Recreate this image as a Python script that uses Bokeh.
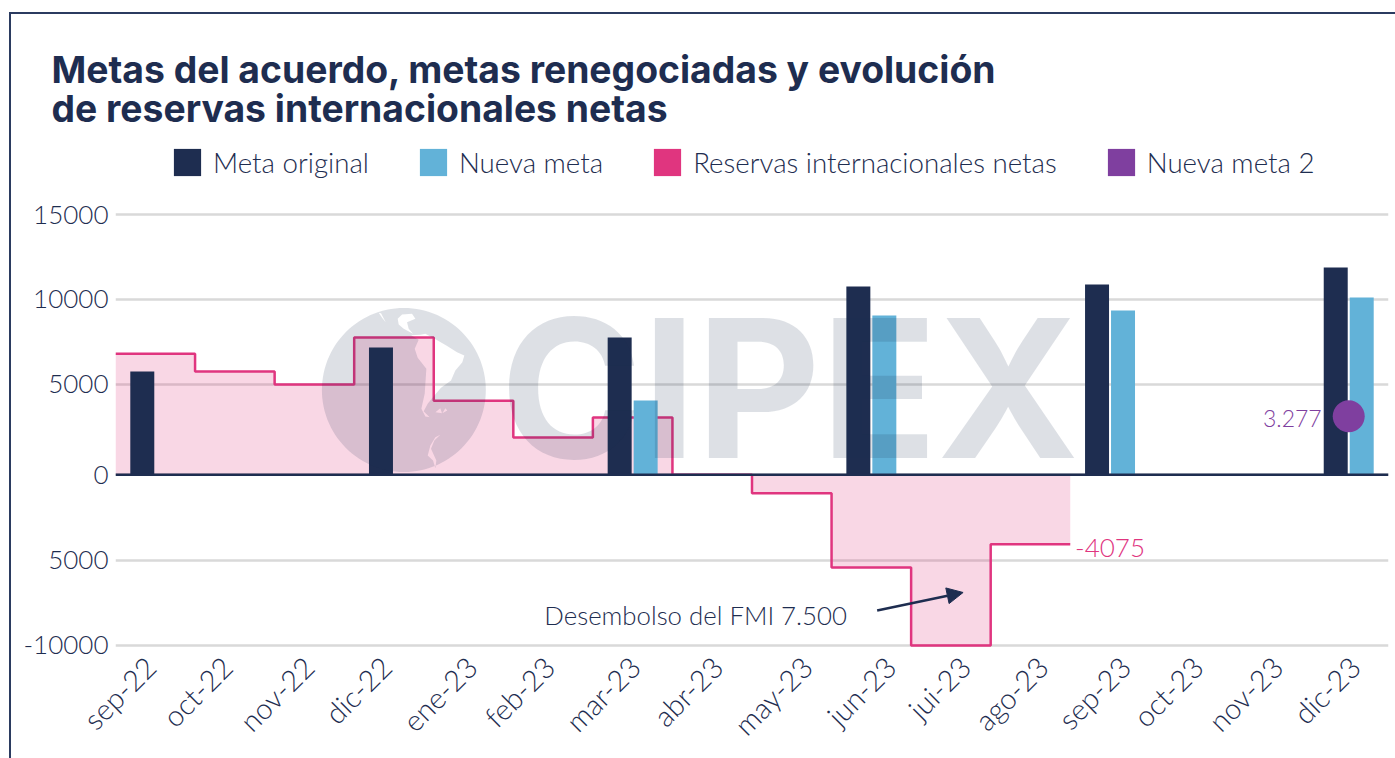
import math
from bokeh.plotting import figure
from bokeh.models import (Range1d, FixedTicker, ColumnDataSource, Label, Legend, LegendItem,
                          Arrow, NormalHead, Span, Title)
from bokeh.core.properties import value
from bokeh.embed import file_html
from bokeh.resources import INLINE

months = ["sep-22","oct-22","nov-22","dic-22","ene-23","feb-23","mar-23","abr-23",
          "may-23","jun-23","jui-23","ago-23","sep-23","oct-23","nov-23","dic-23"]
reservas = [7088, 6052, 5290, 8043, 4335, 2185, 3357, 0, -1078, -5431, -10000, -4075]
orig_months = ["sep-22","dic-22","mar-23","jun-23","sep-23","dic-23"]
meta_original = [6052, 7457, 8043, 11031, 11148, 12144]
nueva_months = ["mar-23","jun-23","sep-23","dic-23"]
nueva_meta = [4353, 9332, 9625, 10386]
nueva_meta2_month = ["dic-23"]
nueva_meta2 = [3433]
y_ticks = [-10000, -5000, 0, 5307, 10270, 15231]
y_labels = ["-10000", "5000", "0", "5000", "10000", "15000"]

NAVY, BLUE, PINK, PURPLE = "#1e2d50", "#62b2d8", "#e0357f", "#7f3f9f"
FONT = "Lato Light"
TXT = "#1e2d50"

p = figure(width=1395, height=758, output_backend="svg", toolbar_location=None,
           x_range=Range1d(0, len(months)),
           y_range=Range1d(-10293, 20287), min_border_left=115, min_border_right=7,
           min_border_top=128, min_border_bottom=108, background_fill_color="white",
           border_fill_alpha=0, outline_line_color=None)
p.styles = {"background": "linear-gradient(#2b3b60,#2b3b60) 9px 12px/2px 746px no-repeat, "
                          "linear-gradient(#2b3b60,#2b3b60) 9px 12px/1386px 2px no-repeat, white"}

band = 79.6
def dx(px): return (px - 115) / band
def dy(py): return (474.3 - py) / 0.01707
def center(m): return months.index(m) + 0.5

# axes
p.yaxis.ticker = FixedTicker(ticks=y_ticks)
p.yaxis.major_label_overrides = {k: v for k, v in zip(y_ticks, y_labels)}
p.yaxis.axis_line_color = None
p.yaxis.major_tick_line_color = None
p.yaxis.minor_tick_line_color = None
p.yaxis.major_label_text_font = FONT
p.yaxis.major_label_text_font_size = "26px"
p.yaxis.major_label_text_color = TXT
p.yaxis.major_label_standoff = 1
# month labels: the reference places them slightly unevenly along the axis
label_shift_px = [-5, -8, -6, -8, -2, -4, 2, 5, 15, 19, 14, 12, 15, 8, 8, 6]
tick_pos = [round(i + 0.5 + s / band, 4) for i, s in enumerate(label_shift_px)]
p.xaxis.ticker = FixedTicker(ticks=tick_pos)
p.xaxis.major_label_overrides = {t: m for t, m in zip(tick_pos, months)}
p.xaxis.axis_line_color = None
p.xaxis.major_tick_line_color = None
p.xaxis.minor_tick_line_color = None
p.xaxis.major_label_text_font = FONT
p.xaxis.major_label_text_font_size = "29px"
p.xaxis.major_label_text_color = TXT
p.xaxis.major_label_orientation = math.pi / 4
p.xaxis.major_label_standoff = 5
p.xgrid.grid_line_color = None
p.ygrid.ticker = FixedTicker(ticks=y_ticks)
p.ygrid.grid_line_color = "#d9d9d9"
p.ygrid.grid_line_width = 2.5

# reservas step area + line
xs = list(range(len(reservas) + 1))
ys = reservas + [reservas[-1]]
p.varea_step(x=xs, y1=ys, y2=[0] * len(xs), step_mode="after", fill_color=PINK, fill_alpha=0.2)
p.step(x=xs, y=ys, mode="after", line_color=PINK, line_width=2.5)

# bars
w = 24 / band
off = 13 / band
so = ColumnDataSource(dict(x=[center(m) - off for m in orig_months], top=meta_original))
sn = ColumnDataSource(dict(x=[center(m) + off for m in nueva_months], top=nueva_meta))
r_o = p.vbar(x="x", top="top", bottom=0, width=w, source=so, fill_color=NAVY, line_color=None)
r_n = p.vbar(x="x", top="top", bottom=0, width=w, source=sn, fill_color=BLUE, line_color=None)
r_p = p.vbar(x=[0.5], top=[float("nan")], bottom=0, width=w, fill_color=PINK, line_color=None)
r_m = p.vbar(x=[0.5], top=[float("nan")], bottom=0, width=w, fill_color=PURPLE, line_color=None)

# watermark (decoration, pixel-placed)
wm = "#1e2d50"
p.text(x=[dx(500)], y=[dy(388)], text=["CIPEX"], text_font=value("Inter"), text_font_style="bold",
       text_font_size="192px", text_color=wm, text_alpha=0.15, text_baseline="middle", level="overlay")
cx, cy, rr = 403.5, 389.5, 82
circ_x = [dx(cx + rr * math.cos(2 * math.pi * i / 120)) for i in range(120)]
circ_y = [dy(cy + rr * math.sin(2 * math.pi * i / 120)) for i in range(120)]
holes_z = [
    [(302,104),(330,103),(345,100),(378,118),(408,135),(440,155),(462,165),(456,185),(435,210),(422,240),
     (392,262),(372,285),(352,310),(340,332),(358,350),(345,348),(333,325),(343,280),(348,205),(322,172),(313,145),(325,118)],
    [(262,55),(275,42),(305,40),(315,55),(290,65),(295,85),(308,100),(280,85),(265,72)],
    [(205,37),(212,38),(226,65),(215,52)],
    [(390,403),(375,410),(360,435),(352,465),(368,480),(375,503),(378,480),(362,445),(372,420)],
    [(375,335),(390,323),(395,338)],
    [(396,338),(405,323),(411,330)],
]
hx = [[dx(310 + a / 3) for a, b in h] for h in holes_z]
hy = [[dy(300 + b / 3) for a, b in h] for h in holes_z]
p.multi_polygons(xs=[[[circ_x] + hx]], ys=[[[circ_y] + hy]], fill_color=wm, fill_alpha=0.15,
                 line_color=None, level="overlay")

# zero axis
p.add_layout(Span(location=0, dimension="width", line_color=NAVY, line_width=2.5))

# Nueva meta 2 point
p.scatter(x=[center(m) for m in nueva_meta2_month], y=nueva_meta2, size=32, fill_color=PURPLE,
          line_color=None, level="overlay")

# annotations
def lab(text, px, py, size, color, align="left", font=FONT):
    p.add_layout(Label(x=dx(px), y=dy(py), text=text, text_font=font, text_font_size=size,
                       text_color=color, text_align=align, text_baseline="middle"))

lab("-4075", 1075, 548, "26px", PINK)
lab("3.277", 1263, 418, "23px", PURPLE)
lab("Desembolso del FMI 7.500", 544, 615, "25.8px", TXT)
p.add_layout(Arrow(end=NormalHead(size=16, fill_color=NAVY, line_color=NAVY), x_start=dx(877), y_start=dy(610),
                   x_end=dx(963), y_end=dy(592), line_color=NAVY, line_width=2.5))

# legend, inside the frame's upper part
leg = Legend(items=[LegendItem(label="Meta original", renderers=[r_o]),
                    LegendItem(label="Nueva meta", renderers=[r_n]),
                    LegendItem(label="Reservas internacionales netas", renderers=[r_p]),
                    LegendItem(label="Nueva meta 2", renderers=[r_m])],
             orientation="horizontal", location=(55, 471), glyph_width=34, glyph_height=34,
             label_standoff=9, spacing=47, padding=0, margin=0, background_fill_alpha=0,
             border_line_color=None, label_text_font=FONT, label_text_font_size="27.7px",
             label_text_color=TXT, label_height=34)
p.add_layout(leg)

# title: two lines under a spacer
for line, gap in [("de reservas internacionales netas", -4), ("Metas del acuerdo, metas renegociadas y evolución", -12)]:
    p.add_layout(Title(text=line, text_font="Inter", text_font_style="bold", text_font_size="37.3px",
                       text_color=NAVY, align="left", offset=-64, standoff=gap), "above")
p.add_layout(Title(text=" ", text_font_size="22px"), "above")

open("out.html", "w").write(file_html(p, INLINE))
